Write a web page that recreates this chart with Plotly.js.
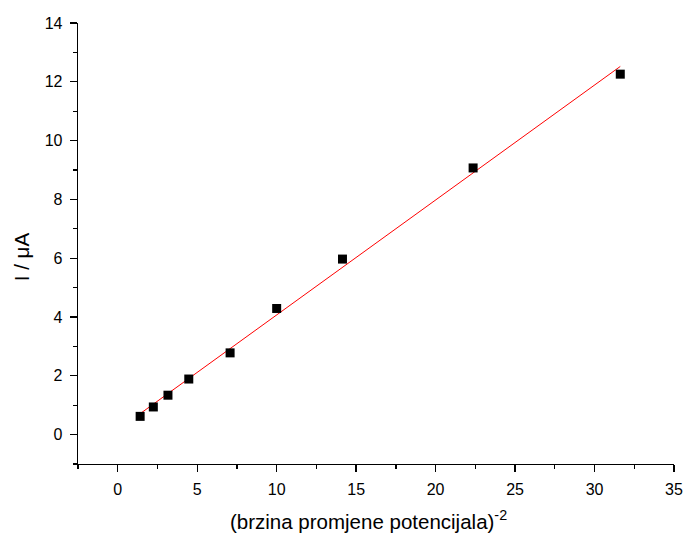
<!DOCTYPE html>
<html>
<head>
<meta charset="utf-8">
<script src="https://cdn.plot.ly/plotly-3.0.1.min.js"></script>
<style>html,body{margin:0;padding:0;background:#fff;}#chart{width:686px;height:536px;}</style>
</head>
<body>
<div id="chart"></div>
<script>
// Data
var xValues = [1.41, 2.24, 3.16, 4.47, 7.07, 10.0, 14.14, 22.36, 31.62];
var yValues = [0.62, 0.94, 1.34, 1.89, 2.78, 4.29, 5.97, 9.07, 12.26];
var xTitle = "(brzina promjene potencijala)<sup>-2</sup>";
var yTitle = "I / \u03bcA";

// Linear least-squares fit computed from the data
var n = xValues.length;
var mx = xValues.reduce(function(a,b){return a+b;},0)/n;
var my = yValues.reduce(function(a,b){return a+b;},0)/n;
var sxy = 0, sxx = 0;
for (var i = 0; i < n; i++) { sxy += (xValues[i]-mx)*(yValues[i]-my); sxx += (xValues[i]-mx)*(xValues[i]-mx); }
var slope = sxy/sxx, intercept = my - slope*mx;
var xmin = Math.min.apply(null, xValues), xmax = Math.max.apply(null, xValues);
var fitX = [xmin, xmax];
var fitY = fitX.map(function(v){return intercept + slope*v;});

var font = "Liberation Sans, Arial, sans-serif";

var traces = [
  {x: fitX, y: fitY, mode: 'lines', type: 'scatter', line: {color: '#ff0000', width: 1}, hoverinfo: 'skip'},
  {x: xValues, y: yValues, mode: 'markers', type: 'scatter', marker: {symbol: 'square', size: 9, color: '#000000'}}
];

var layout = {
  width: 686, height: 536,
  margin: {l: 78, r: 12, t: 23, b: 72},
  paper_bgcolor: '#ffffff', plot_bgcolor: '#ffffff',
  showlegend: false,
  font: {family: font, size: 16, color: '#000'},
  xaxis: {
    range: [-2.5, 35], tick0: 0, dtick: 5, showgrid: false, zeroline: false,
    showline: true, linecolor: '#000', linewidth: 1.3,
    ticks: 'outside', ticklen: 7, tickwidth: 1.3, tickcolor: '#000',
    ticklabelstandoff: 3,
    minor: {dtick: 2.5, tick0: 0, ticks: 'outside', ticklen: 4, tickwidth: 1.3, tickcolor: '#000', showgrid: false},
    tickfont: {family: font, size: 16, color: '#000'}
  },
  yaxis: {
    range: [-1, 14], tick0: 0, dtick: 2, showgrid: false, zeroline: false,
    showline: true, linecolor: '#000', linewidth: 1.3,
    ticks: 'outside', ticklen: 7, tickwidth: 1.3, tickcolor: '#000',
    ticklabelstandoff: 4,
    minor: {dtick: 1, tick0: 0, ticks: 'outside', ticklen: 4, tickwidth: 1.3, tickcolor: '#000', showgrid: false},
    tickfont: {family: font, size: 16, color: '#000'}
  },
  annotations: [
    {text: xTitle, xref: 'paper', yref: 'paper', x: 0.488, y: -0.127, xanchor: 'center', yanchor: 'middle',
     showarrow: false, font: {family: font, size: 20.5, color: '#000'}},
    {text: yTitle, xref: 'paper', yref: 'paper', x: -0.0956, y: 0.469, xanchor: 'center', yanchor: 'middle',
     textangle: -90, showarrow: false, font: {family: font, size: 20.5, color: '#000'}}
  ]
};

Plotly.newPlot('chart', traces, layout, {displayModeBar: false, staticPlot: true});
</script>
</body>
</html>
